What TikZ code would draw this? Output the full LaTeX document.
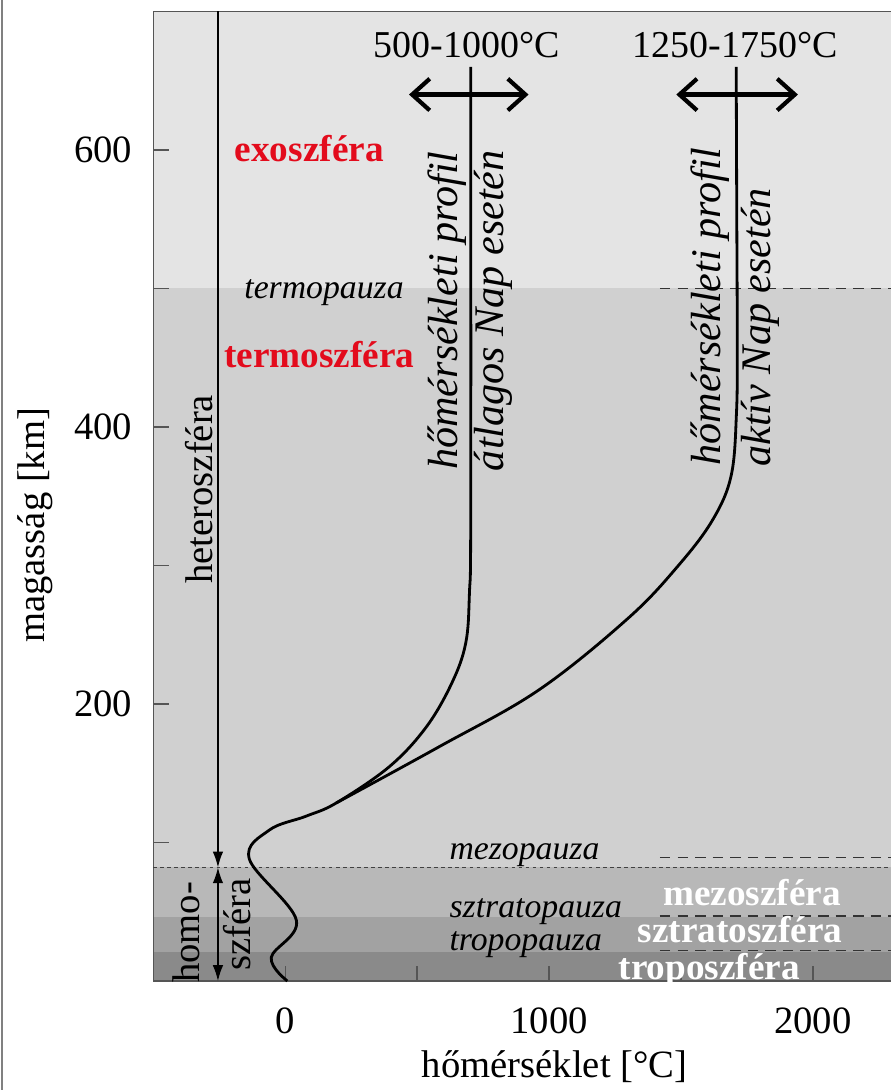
\documentclass[tikz,border=0pt]{standalone}
\usepackage{fontspec}
\setmainfont{Liberation Serif}
\usetikzlibrary{arrows.meta}
\definecolor{exoszin}{HTML}{E4E4E4}
\definecolor{termoszin}{HTML}{D0D0D0}
\definecolor{mezoszin}{HTML}{B8B8B8}
\definecolor{sztratoszin}{HTML}{A2A2A2}
\definecolor{troposzin}{HTML}{8A8A8A}
\definecolor{szfpiros}{HTML}{E30B1C}
\definecolor{keret}{HTML}{555555}

\begin{document}
\begin{tikzpicture}[x=0.002645cm, y=0.01385cm, font=\fontsize{11}{13}\selectfont,
  pauza/.style={font=\fontsize{9.6}{11}\selectfont\itshape},
  szfera/.style={font=\fontsize{10.6}{12}\selectfont\bfseries, inner sep=0},
  profil/.style={rotate=90, font=\fontsize{12}{14}\selectfont\itshape},
  gorbe/.style={line width=0.8pt, black, line join=round}]
\useasboundingbox (-1081,-78.7) rectangle (2295,708.3);
\fill[exoszin] (-500,500) rectangle (2300,700);
\fill[termoszin] (-500,82) rectangle (2300,500);
\fill[mezoszin] (-500,46) rectangle (2300,82);
\fill[sztratoszin] (-500,21) rectangle (2300,46);
\fill[troposzin] (-500,0) rectangle (2300,21);
\draw[keret, thin] (2300,700) -- (-500,700) -- (-500,0) -- (2300,0);
\draw[gray, thin] (-1074,-80) -- (-1074,710);
\foreach \y in {100,200,...,600} {
 \draw[keret, thin] (-500,\y) --++(60,0);
}
\foreach \y in {200,400,600} {
 \node[anchor=east, inner sep=0] (mag\y) at (-578,\y) {\y};
}
\foreach \x in {0,500,...,2000} {
 \draw[keret, thin] (\x,0) --++(0,11);
}
\foreach \x in {0,1000,2000} {
 \node (hom\x) at (\x,-29) {\x};
}
\node (xlab) at (1021,-62) {hőmérséklet [°C]};
\node[rotate=90] (ylab) at (-949,329) {magasság [km]};
\draw[black!75, dash pattern=on 1pt off 1pt] (-500,82) -- (2300,82);
\foreach \h in {500,89,47,22} {
 \draw[black!80, dash pattern=on 3pt off 2pt] (1420,\h) -- (2300,\h);
}
\coordinate (hettop) at (-255,700);
\coordinate (hatar) at (-255,82);
\coordinate (homalj) at (-255,0);
\draw[thin, -{Latex[length=4.5pt,width=3pt]}] (hettop) -- (hatar);
\draw[thin, {Latex[length=4.5pt,width=3pt]}-{Latex[length=4.5pt,width=3pt]}] (hatar) -- (homalj);
\node[rotate=90] (hetero) at (-325,355) {heteroszféra};
\node[rotate=90] (homo) at (-374,35) {homo-};
\node[rotate=90] (homoszf) at (-181,41) {szféra};
\node[szfera, text=szfpiros] (exo) at (91,601) {exoszféra};
\node[pauza] (termop) at (147,497) {termopauza};
\node[szfera, text=szfpiros] (termo) at (129,452) {termoszféra};
\node[pauza, anchor=west, inner sep=0] (mezop) at (620,91) {mezopauza};
\node[pauza, anchor=west, inner sep=0] (sztratop) at (620,50) {sztratopauza};
\node[pauza, anchor=west, inner sep=0] (tropop) at (620,26) {tropopauza};
\node[szfera, text=white] (mezo) at (1769,64) {mezoszféra};
\node[szfera, text=white] (sztrato) at (1724,37) {sztratoszféra};
\node[szfera, text=white] (tropo) at (1607,8) {troposzféra};
\draw[gorbe] plot[smooth, tension=0.6] coordinates {(8,0) (-53,17) (42,44) (-136,88) (-60,109) (79,119) (193,128.5) (393,154.5) (533,183) (631,215) (684,244) (698,280) (703,340) (703,660)};
\draw[gorbe] plot[smooth, tension=0.6] coordinates {(193,128.5) (582,169) (960,210) (1300,262) (1490,300) (1620,333) (1690,365) (1710,410) (1713,460) (1711,560) (1709,660)};
\node[profil] (atlprof) at (612,484) {hőmérsékleti profil};
\node[profil] (atlnap) at (790,484) {átlagos Nap esetén};
\node[profil] (aktprof) at (1611,487) {hőmérsékleti profil};
\node[profil] (aktnap) at (1800,472) {aktív Nap esetén};
\node[font=\fontsize{10.8}{12}\selectfont] (atllab) at (688,676) {500-1000°C};
\node[font=\fontsize{10.8}{12}\selectfont] (aktlab) at (1705,676) {1250-1750°C};
\draw[line width=1.2pt, {Straight Barb[length=5pt,width=9pt]}-{Straight Barb[length=5pt,width=9pt]}] (469,640) -- (922,640);
\draw[line width=1.2pt, {Straight Barb[length=5pt,width=9pt]}-{Straight Barb[length=5pt,width=9pt]}] (1482,640) -- (1943,640);
\end{tikzpicture}
\end{document}
